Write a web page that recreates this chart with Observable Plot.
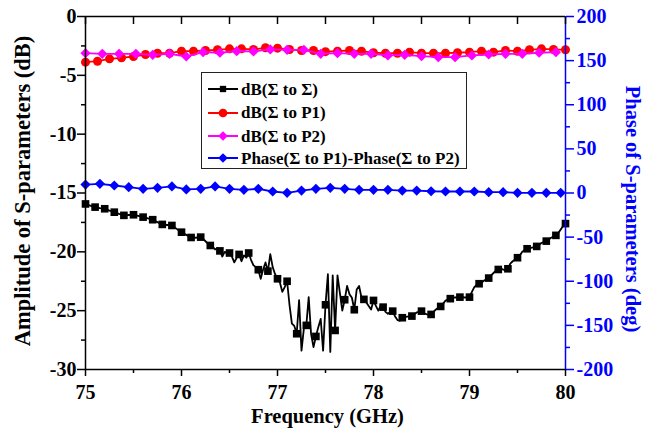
<!DOCTYPE html>
<html><head><meta charset="utf-8">
<script src="https://cdn.jsdelivr.net/npm/d3@7"></script>
<script src="https://cdn.jsdelivr.net/npm/@observablehq/plot@0.6"></script>
<style>
body{margin:0;background:#fff;}
#wrap{position:relative;width:658px;height:432px;font-family:"Liberation Serif","Times New Roman",serif;font-weight:bold;color:#000;}
.t{position:absolute;white-space:nowrap;font-size:20.5px;line-height:21px;}
#legend{position:absolute;left:201px;top:72px;width:264px;height:95px;border:1.5px solid #222;background:#fff;font-size:17px;}
.row{position:absolute;left:0;height:23px;line-height:23px;display:flex;align-items:center;white-space:nowrap;}
.row svg{margin-left:6px;margin-right:3px;}
</style></head><body><div id="wrap"></div>
<script>
// ---- data ----
const seriesNames = ["dB(\u03A3 to \u03A3)", "dB(\u03A3 to P1)", "dB(\u03A3 to P2)", "Phase(\u03A3 to P1)-Phase(\u03A3 to P2)"];
const seriesColors = ["#000000", "#ff0000", "#ff00ff", "#0000ff"];
const seriesSymbols = ["square", "circle", "diamond2", "diamond2"];

const freqStart = 75;
// dB(Σ to Σ): 0.025 GHz step, marker every 4th point
const blackStep = 0.025;
const blackDb = [
 -15.93,-16.0,-16.08,-16.15, -16.2,-16.24,-16.28,-16.31, -16.34,-16.42,-16.5,-16.57, -16.63,-16.7,-16.78,-16.85,
 -16.9,-16.88,-16.87,-16.86, -16.85,-16.9,-16.95,-17.0, -17.05,-17.1,-17.16,-17.22, -17.27,-17.38,-17.48,-17.58,
 -17.67,-17.7,-17.72,-17.74, -17.76,-17.9,-18.05,-18.2, -18.33,-18.45,-18.56,-18.68, -18.78,-18.74,-18.82,-18.7,
 -18.75,-18.9,-19.1,-19.3, -19.46,-19.55,-19.8,-19.7, -19.92,-20.4,-20.0,-20.15, -20.1,-20.4,-20.9,-20.5,
 -20.22,-20.8,-20.3,-20.5, -20.1,-20.7,-21.15,-21.3, -21.52,-22.3,-21.5,-20.9, -21.64,-20.2,-21.3,-21.9,
 -22.29,-22.6,-23.4,-23.0, -22.5,-24.5,-26.1,-26.3, -26.96,-24.1,-28.4,-26.5, -26.25,-23.85,-27.0,-28.1,
 -27.19,-26.4,-25.7,-28.4, -24.5,-21.9,-28.5,-22.0, -26.68,-22.0,-23.5,-25.0, -24.07,-22.9,-23.6,-23.9,
 -24.92,-23.2,-22.9,-23.9, -24.04,-24.3,-24.6,-24.9, -24.13,-24.6,-25.0,-24.6, -24.7,-25.1,-25.26,-25.1,
 -25.04,-25.5,-25.8,-25.85, -25.6,-25.55,-25.5,-25.48, -25.46,-25.3,-25.15,-25.1, -25.04,-25.2,-25.3,-25.35,
 -25.32,-25.1,-24.9,-24.75, -24.64,-24.4,-24.15,-24.05, -23.98,-23.92,-23.88,-23.86, -23.85,-23.86,-23.88,-23.87,
 -23.85,-23.4,-23.0,-22.8, -22.71,-22.6,-22.45,-22.35, -22.23,-22.0,-21.8,-21.6, -21.5,-21.45,-21.5,-21.6,
 -21.44,-21.0,-20.8,-20.65, -20.5,-20.3,-20.0,-19.85, -19.74,-19.7,-19.65,-19.6, -19.54,-19.4,-19.25,-19.15,
 -19.09,-18.95,-18.8,-18.7, -18.6,-18.4,-18.1,-17.8, -17.6
];
const blackMarkerEvery = 4;
// dB(Σ to P1): 0.125 GHz step
const redStep = 0.125;
const redDb = [-3.88,-3.8,-3.6,-3.51,-3.4,-3.23,-3.12,-3.12,-2.95,-2.95,-2.89,-2.83,-2.75,-2.75,-2.8,-2.66,-2.69,-2.8,-2.89,-2.89,
 -2.99,-2.95,-2.89,-2.95,-3.08,-3.12,-3.12,-3.03,-3.12,-3.12,-3.12,-3.08,-3.03,-2.95,-3.03,-2.89,-2.95,-2.83,-2.75,-2.8,-2.83];
// dB(Σ to P2): 0.175 GHz step
const magStep = 0.175;
const magDb = [-3.12,-3.17,-3.17,-3.17,-3.26,-3.17,-3.4,-3.03,-3.08,-2.95,-2.97,-2.8,-2.83,-2.83,-3.17,
 -3.12,-3.17,-3.17,-3.31,-3.26,-3.37,-3.46,-3.46,-3.31,-3.23,-3.17,-3.17,-3.08,-3.03];
// Phase difference (deg): 0.15 GHz step
const blueStep = 0.15;
const bluePhase = [9.6,10.4,8.5,6.6,4.7,5.9,7.4,4.0,4.7,7.4,4.7,3.6,4.7,1.7,0.2,2.8,4.7,5.9,4.7,3.6,3.6,3.6,2.8,2.8,2.0,1.7,1.7,1.7,0.9,0.9,0.2,0.2,0.2,0.2];

const xMajor = [75,76,77,78,79,80];
const xMinor = [75.5,76.5,77.5,78.5,79.5];
const xTop = [75,75.5,76,76.5,77,77.5,78,78.5,79,79.5,80];
const yMajor = [0,-5,-10,-15,-20,-25,-30];
const yMinor = [-2.5,-7.5,-12.5,-17.5,-22.5,-27.5];
const phMajor = [200,150,100,50,0,-50,-100,-150,-200];
const phMinor = [175,125,75,25,-25,-75,-125,-175];
const xDomain = [75,80], yDomain = [-30,0], phDomain = [-200,200];

// ---- helpers ----
const toDb = p => yDomain[0] + (p - phDomain[0]) / (phDomain[1]-phDomain[0]) * (yDomain[1]-yDomain[0]);
const toPh = d => phDomain[0] + (d - yDomain[0]) / (yDomain[1]-yDomain[0]) * (phDomain[1]-phDomain[0]);
const mk = (vals, step) => vals.map((v,i) => ({f: +(freqStart + i*step).toFixed(4), v}));
const black = mk(blackDb, blackStep);
const blackM = black.filter((d,i) => i % blackMarkerEvery === 0);
const red = mk(redDb, redStep);
const mag = mk(magDb, magStep);
const blue = mk(bluePhase, blueStep).map(d => ({f:d.f, v:toDb(d.v)}));

const BLUE = "#0000ff";
const plot = Plot.plot({
  width: 658, height: 432,
  marginLeft: 85, marginRight: 93, marginTop: 16, marginBottom: 63,
  x: {domain: xDomain},
  y: {domain: yDomain},
  style: {fontFamily: '"Liberation Serif","Times New Roman",serif', fontSize: "20px", fontWeight: "bold", background: "white", overflow: "visible"},
  marks: [
    Plot.line(black, {x:"f", y:"v", stroke: seriesColors[0], strokeWidth: 1.8}),
    Plot.dot(blackM, {x:"f", y:"v", symbol: seriesSymbols[0], r: 4.3, fill: seriesColors[0], stroke: null}),
    Plot.line(red, {x:"f", y:"v", stroke: seriesColors[1], strokeWidth: 1.8}),
    Plot.dot(red, {x:"f", y:"v", symbol: seriesSymbols[1], r: 4.5, fill: seriesColors[1], stroke: null}),
    Plot.line(mag, {x:"f", y:"v", stroke: seriesColors[2], strokeWidth: 1.8}),
    Plot.dot(mag, {x:"f", y:"v", symbol: seriesSymbols[2], r: 4.6, fill: seriesColors[2], stroke: null}),
    Plot.line(blue, {x:"f", y:"v", stroke: seriesColors[3], strokeWidth: 1.8}),
    Plot.dot(blue, {x:"f", y:"v", symbol: seriesSymbols[3], r: 4.6, fill: seriesColors[3], stroke: null}),
    // frame
    Plot.ruleY([yDomain[1]], {stroke: "#000", strokeWidth: 1.5}),
    Plot.ruleY([yDomain[0]], {stroke: "#000", strokeWidth: 1.5}),
    Plot.ruleX([xDomain[0]], {stroke: "#000", strokeWidth: 1.5}),
    Plot.ruleX([xDomain[1]], {stroke: BLUE, strokeWidth: 1.5}),
    // axes
    Plot.axisX({anchor:"bottom", ticks: xMajor, tickSize: 7, tickPadding: 8, tickFormat: d => String(d), label: null, strokeWidth: 1.5}),
    Plot.axisX({anchor:"bottom", ticks: xMinor, tickSize: 4, tickFormat: () => "", label: null, strokeWidth: 1.5}),
    Plot.axisX({anchor:"top", ticks: xTop, tickSize: -7, tickFormat: () => "", label: null, strokeWidth: 1.5}),
    Plot.axisY({anchor:"left", ticks: yMajor, tickSize: 8, tickPadding: 1, tickFormat: d => String(d), label: null, strokeWidth: 1.5}),
    Plot.axisY({anchor:"left", ticks: yMinor, tickSize: 4, tickFormat: () => "", label: null, strokeWidth: 1.5}),
    Plot.axisY({anchor:"right", ticks: phMajor.map(toDb), tickSize: 8, tickPadding: 3, tickFormat: d => String(Math.round(toPh(d))), label: null, color: BLUE, strokeWidth: 1.5}),
    Plot.axisY({anchor:"right", ticks: phMinor.map(toDb), tickSize: 4, tickFormat: () => "", label: null, color: BLUE, strokeWidth: 1.5})
  ]
});
const wrap = document.getElementById("wrap");
wrap.appendChild(plot);

// axis titles
function addText(txt, css, color) {
  const d = document.createElement("div");
  d.className = "t"; d.textContent = txt; d.style.cssText += css;
  if (color) d.style.color = color;
  wrap.appendChild(d);
}
addText("Frequency (GHz)", "left:0;width:655px;text-align:center;top:406px;");
addText("Amplitude of S-parameters (dB)", "left:22px;top:191px;font-size:22.5px;transform:translate(-50%,-50%) rotate(-90deg);");
addText("Phase of S-parameters (deg)", "left:632px;top:209px;transform:translate(-50%,-50%) rotate(90deg);", BLUE);

// legend
const leg = document.createElement("div");
leg.id = "legend";
const rowCenters = [16.3, 39.7, 63, 85.3];
const symMap = {square: d3.symbolSquare, circle: d3.symbolCircle, diamond2: d3.symbolDiamond2};
seriesNames.forEach((name, i) => {
  const row = document.createElement("div");
  row.className = "row";
  row.style.top = (rowCenters[i] - 11.5) + "px";
  const sym = d3.symbol(symMap[seriesSymbols[i]], i === 0 ? 40 : 60)();
  row.innerHTML = `<svg width="30" height="14"><line x1="0" x2="30" y1="7" y2="7" stroke="${seriesColors[i]}" stroke-width="2"/><path transform="translate(15,7)" d="${sym}" fill="${seriesColors[i]}"/></svg><span>${name}</span>`;
  leg.appendChild(row);
});
wrap.appendChild(leg);
</script></body></html>
